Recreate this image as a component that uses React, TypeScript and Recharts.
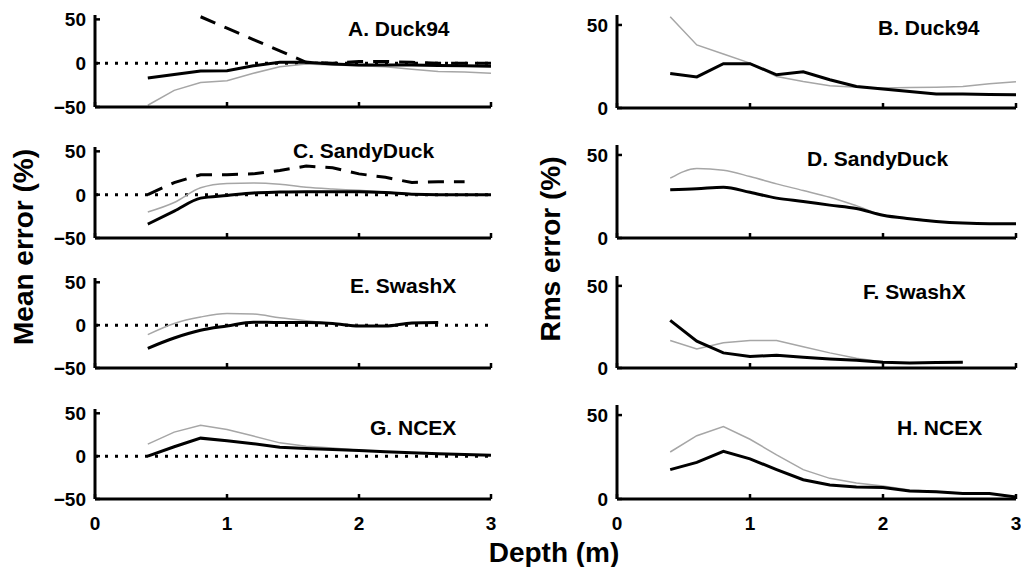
import React from 'react';
import { LineChart, Line, XAxis, YAxis, ReferenceLine } from 'recharts';

// ---------- data ----------
const depth = [0.4, 0.6, 0.8, 1.0, 1.2, 1.4, 1.6, 1.8, 2.0, 2.2, 2.4, 2.6, 2.8, 3.0];
const xTicks = [0, 1, 2, 3];
const meanTicks = [-50, 0, 50];
const rmsTicks = [0, 50];
const meanDomain = [-50, 55];
const rmsDomain = [0, 56];

// A. Duck94 (mean error)
const aSolid = [-17, -13, -9, -8.5, -3, 1, 1, -1, -2, -2, -2, -2.5, -3, -3.5];
const aGray = [-48, -31, -22, -20, -11.5, -4, -1, -2, -3, -4, -7, -9.5, -10, -11.5];
const aDashed = [null, null, 53, 40, 27, 14, 1, 0, 2, 2, 1, 0, 0, 0];
// B. Duck94 (rms error)
const bSolid = [20.8, 18.7, 26.7, 26.7, 20, 21.8, 17, 13, 11.5, 10, 8.4, 8.4, 8.2, 8];
const bGray = [55, 38, 32.5, 27, 19, 16, 13.4, 12.5, 12, 12.3, 12.5, 13, 14.6, 15.8];
// C. SandyDuck (mean error)
const cSolid = [-34, -19, -4, -1, 2, 3, 3.5, 3.5, 3.5, 2.5, 0.5, 0, 0, 0];
const cGray = [-20, -9, 8, 13, 13.5, 12, 8.5, 6.5, 5, 3, 1, 0, 0, 0];
const cDashed = [0, 14, 23, 23, 24, 28, 33, 31, 24, 20, 14, 15, 15, null];
// D. SandyDuck (rms error)
const dSolid = [29, 29.6, 30.6, 27.5, 24, 22, 19.8, 17.8, 13.7, 11.6, 10, 9, 8.6, 8.6];
const dGray = [36, 41.8, 40.8, 37, 32.6, 28.6, 24.5, 19.4, 13.9, 11.8, 10, 9, 8.6, 8.6];
// E. SwashX (mean error)
const eSolid = [-27, -15, -6, -1, 3.5, 3, 3, 2, -1, -1, 2.5, 3, null, null];
const eGray = [-11, 2, 9.5, 13.5, 13, 8.5, 5, 2, -0.5, -1, 2, 3, null, null];
// F. SwashX (rms error)
const fSolid = [29, 16.3, 9.2, 7, 7.8, 6.5, 5.5, 4.7, 3.5, 3, 3.3, 3.5, null, null];
const fGray = [16.7, 11.6, 15.3, 16.7, 16.7, 12.9, 9.2, 6, 3.7, 3, 3.3, 3.5, null, null];
// G. NCEX (mean error)
const gSolid = [0, 11, 21, 18, 14.5, 10.5, 9, 7.8, 6.5, 5, 4, 2.7, 2, 1];
const gGray = [14, 28, 36, 31, 23.5, 15.5, 11.5, 9.5, 7, 5, 4, 2.7, 2, 1];
// H. NCEX (rms error)
const hSolid = [17.5, 21.8, 28.4, 23.9, 17.5, 11.5, 8.4, 7.2, 6.8, 4.7, 4.3, 3.3, 3.3, 1.2];
const hGray = [28, 37.7, 43.2, 35.6, 26.3, 17.5, 12.3, 9.5, 7.8, 5.3, 4.5, 3.4, 3.3, 1.2];

const FONT = '"Liberation Sans", Arial, Helvetica, sans-serif';

function build(solid: (number | null)[], gray: (number | null)[], dashed?: (number | null)[]) {
  return depth.map((d, i) => ({
    depth: d,
    solid: solid[i],
    gray: gray[i],
    dashed: dashed ? dashed[i] : null,
  }));
}

function XTick(props: any) {
  const { x, y, payload, showLabel } = props;
  return (
    <g>
      <line x1={x} y1={y} x2={x} y2={y - 5} stroke="#000" strokeWidth={2.5} />
      {showLabel && (
        <text x={x} y={y + 31} textAnchor="middle" fontFamily={FONT} fontWeight="bold" fontSize={19} fill="#000">
          {payload.value}
        </text>
      )}
    </g>
  );
}

function YTick(props: any) {
  const { x, y, payload } = props;
  const v = payload.value;
  const label = v < 0 ? '\u2212' + Math.abs(v) : String(v);
  return (
    <g>
      <line x1={x} y1={y} x2={x + 5} y2={y} stroke="#000" strokeWidth={2.5} />
      <text x={x - 9} y={y + 7} textAnchor="end" fontFamily={FONT} fontWeight="bold" fontSize={19} fill="#000">
        {label}
      </text>
    </g>
  );
}

type PanelProps = {
  col: 'left' | 'right';
  top: number;
  bottom: number;
  data: any[];
  showX: boolean;
  curve: 'linear' | 'monotone';
};

function Panel({ col, top, bottom, data, showX, curve }: PanelProps) {
  const isLeft = col === 'left';
  const padTop = 12;
  const xH = showX ? 40 : 16;
  const height = padTop + (bottom - top) + xH;
  const left = isLeft ? 0 : 510;
  const width = isLeft ? 510 : 511;
  const margin = isLeft
    ? { top: padTop, right: 19, bottom: 0, left: 35 }
    : { top: padTop, right: 5, bottom: 0, left: 47 };
  const hasDashed = data.some((r) => r.dashed !== null && r.dashed !== undefined);
  return (
    <div style={{ position: 'absolute', left, top: top - padTop }}>
      <LineChart width={width} height={height} data={data} margin={margin}>
        <XAxis
          dataKey="depth"
          type="number"
          domain={[0, 3]}
          ticks={xTicks}
          interval={0}
          allowDataOverflow
          height={xH}
          tickSize={0}
          tickMargin={0}
          tickLine={false}
          axisLine={{ stroke: '#000', strokeWidth: 3 }}
          tick={<XTick showLabel={showX} />}
        />
        <YAxis
          type="number"
          domain={isLeft ? meanDomain : rmsDomain}
          ticks={isLeft ? meanTicks : rmsTicks}
          interval={0}
          allowDataOverflow
          width={60}
          tickSize={0}
          tickMargin={0}
          tickLine={false}
          axisLine={{ stroke: '#000', strokeWidth: 3 }}
          tick={<YTick />}
        />
        {isLeft && (
          <ReferenceLine y={0} stroke="#000" strokeWidth={3} strokeDasharray="3 7" ifOverflow="visible" />
        )}
        <Line dataKey="gray" type={curve} stroke="#a6a6a6" strokeWidth={1.5} dot={false} isAnimationActive={false} connectNulls={false} />
        <Line dataKey="solid" type={curve} stroke="#000" strokeWidth={3} dot={false} isAnimationActive={false} connectNulls={false} />
        {hasDashed && (
          <Line dataKey="dashed" type="linear" stroke="#000" strokeWidth={3} strokeDasharray="16 10" dot={false} isAnimationActive={false} connectNulls={false} />
        )}
      </LineChart>
    </div>
  );
}

const titles = [
  { t: 'A. Duck94', x: 348, y: 36 },
  { t: 'B. Duck94', x: 878, y: 35 },
  { t: 'C. SandyDuck', x: 293, y: 158 },
  { t: 'D. SandyDuck', x: 807, y: 166 },
  { t: 'E. SwashX', x: 350, y: 293 },
  { t: 'F. SwashX', x: 863, y: 299 },
  { t: 'G. NCEX', x: 370, y: 435 },
  { t: 'H. NCEX', x: 897, y: 435 },
];

export default function App() {
  return (
    <div style={{ position: 'absolute', left: 0, top: 0, width: 1021, height: 567, background: '#fff', overflow: 'hidden' }}>
      <Panel col="left" top={15} bottom={107} data={build(aSolid, aGray, aDashed)} showX={false} curve="linear" />
      <Panel col="right" top={15} bottom={108} data={build(bSolid, bGray)} showX={false} curve="linear" />
      <Panel col="left" top={147} bottom={238} data={build(cSolid, cGray, cDashed)} showX={false} curve="monotone" />
      <Panel col="right" top={145} bottom={238} data={build(dSolid, dGray)} showX={false} curve="monotone" />
      <Panel col="left" top={278} bottom={368} data={build(eSolid, eGray)} showX={false} curve="monotone" />
      <Panel col="right" top={276} bottom={368} data={build(fSolid, fGray)} showX={false} curve="linear" />
      <Panel col="left" top={409} bottom={499} data={build(gSolid, gGray)} showX={true} curve="linear" />
      <Panel col="right" top={405} bottom={499} data={build(hSolid, hGray)} showX={true} curve="linear" />
      <svg width={1021} height={567} style={{ position: 'absolute', left: 0, top: 0, pointerEvents: 'none' }}>
        {titles.map((d) => (
          <text key={d.t} x={d.x} y={d.y} fontFamily={FONT} fontWeight="bold" fontSize={21} fill="#000">
            {d.t}
          </text>
        ))}
        <text transform="translate(33,247) rotate(-90)" textAnchor="middle" fontFamily={FONT} fontWeight="bold" fontSize={28} fill="#000">
          Mean error (%)
        </text>
        <text transform="translate(560,249) rotate(-90)" textAnchor="middle" fontFamily={FONT} fontWeight="bold" fontSize={28} fill="#000">
          Rms error (%)
        </text>
        <text x={554} y={562} textAnchor="middle" fontFamily={FONT} fontWeight="bold" fontSize={28} fill="#000">
          Depth (m)
        </text>
      </svg>
    </div>
  );
}
